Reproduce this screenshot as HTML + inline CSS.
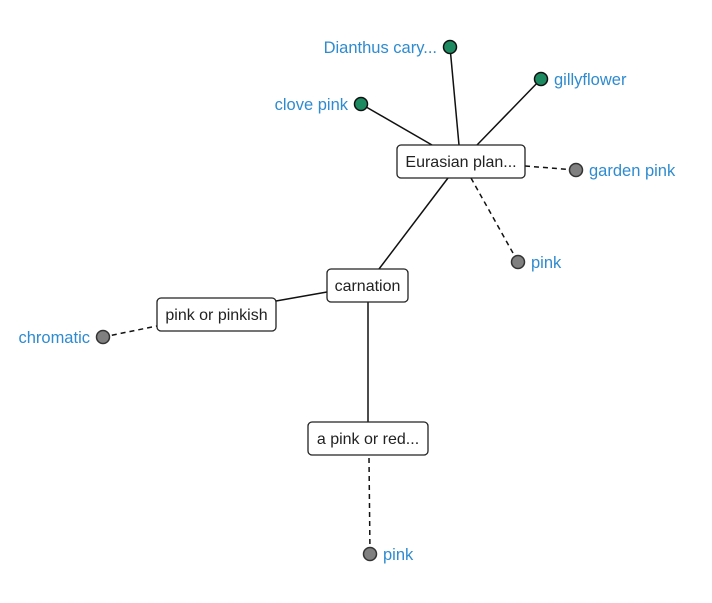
<!DOCTYPE html>
<html><head><meta charset="utf-8"><style>
html,body{margin:0;padding:0;background:#fff;}
svg{display:block;font-family:"Liberation Sans",Arial,sans-serif;}
.b{fill:#fff;stroke:#222;stroke-width:1.3;}
.t{font-size:16px;fill:#222;}
.l{font-size:16.5px;fill:#2e8bd0;}
.s{stroke:#111;stroke-width:1.5;fill:none;}
.d{stroke:#111;stroke-width:1.5;fill:none;stroke-dasharray:5,4;}
.g{fill:#1e8a62;stroke:#111;stroke-width:1.5;}
.gr{fill:#808080;stroke:#333;stroke-width:1.5;}
</style></head><body>
<svg width="712" height="603" viewBox="0 0 712 603">
<line class="s" x1="361" y1="104" x2="432" y2="145"/>
<line class="s" x1="450" y1="47" x2="459" y2="145"/>
<line class="s" x1="541" y1="79" x2="477" y2="145"/>
<line class="d" x1="525" y1="166" x2="576" y2="170"/>
<line class="d" x1="471" y1="178" x2="518" y2="262"/>
<line class="s" x1="448" y1="178" x2="379" y2="269"/>
<line class="s" x1="327" y1="292" x2="276" y2="301"/>
<line class="d" x1="103" y1="337" x2="157" y2="326"/>
<line class="s" x1="368" y1="302" x2="368" y2="422"/>
<line class="d" x1="369" y1="458" x2="370" y2="554"/>

<rect class="b" x="397" y="145" width="128" height="33" rx="4"/>
<text class="t" x="461" y="167" text-anchor="middle">Eurasian plan...</text>
<rect class="b" x="327" y="269" width="81" height="33" rx="4"/>
<text class="t" x="367.5" y="291" text-anchor="middle">carnation</text>
<rect class="b" x="157" y="298" width="119" height="33" rx="4"/>
<text class="t" x="216.5" y="320" text-anchor="middle">pink or pinkish</text>
<rect class="b" x="308" y="422" width="120" height="33" rx="4"/>
<text class="t" x="368" y="444" text-anchor="middle">a pink or red...</text>

<circle class="g" cx="450" cy="47" r="6.5"/>
<text class="l" x="437" y="53" text-anchor="end">Dianthus cary...</text>
<circle class="g" cx="541" cy="79" r="6.5"/>
<text class="l" x="554" y="85">gillyflower</text>
<circle class="g" cx="361" cy="104" r="6.5"/>
<text class="l" x="348" y="110" text-anchor="end">clove pink</text>
<circle class="gr" cx="576" cy="170" r="6.5"/>
<text class="l" x="589" y="176">garden pink</text>
<circle class="gr" cx="518" cy="262" r="6.5"/>
<text class="l" x="531" y="268">pink</text>
<circle class="gr" cx="103" cy="337" r="6.5"/>
<text class="l" x="90" y="343" text-anchor="end">chromatic</text>
<circle class="gr" cx="370" cy="554" r="6.5"/>
<text class="l" x="383" y="560">pink</text>
</svg>
</body></html>
